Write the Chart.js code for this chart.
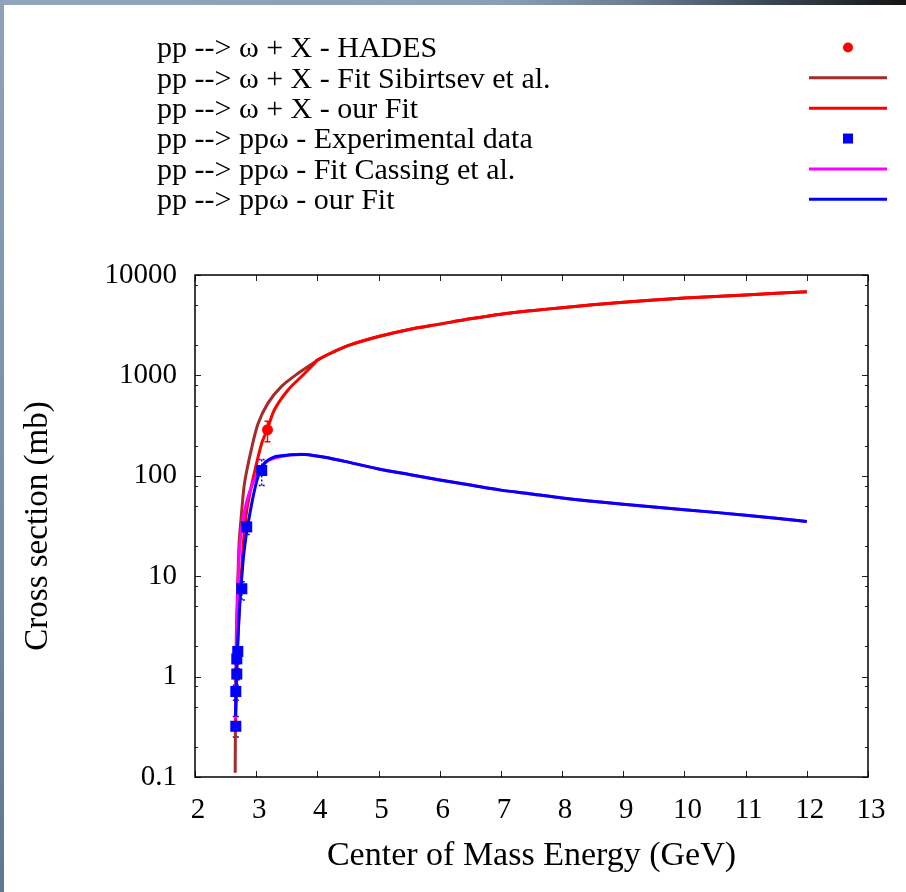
<!DOCTYPE html>
<html>
<head>
<meta charset="utf-8">
<title>pp omega cross sections</title>
<script src="https://cdn.jsdelivr.net/npm/chart.js@4.4.1/dist/chart.umd.min.js"></script>
<style>
  html, body { margin: 0; padding: 0; background: #fff; }
  #wrap { position: relative; width: 906px; height: 892px; overflow: hidden; background: #fff; }
  #topbar { position: absolute; left: 0; top: 0; width: 906px; height: 5px;
    background: linear-gradient(to right, #93a5bc 0%, #8c9fb6 55%, #6c7d90 70%, #3a4653 85%, #141414 100%); }
  #leftbar { position: absolute; left: 0; top: 0; width: 4px; height: 892px;
    background: linear-gradient(to bottom, #8fa2ba 0%, #7a91ab 50%, #5f7892 100%); }
  canvas { position: absolute; left: 0; top: 0; }
</style>
</head>
<body>
<div id="wrap">
  <canvas id="myChart" width="906" height="892"></canvas>
  <div id="topbar"></div>
  <div id="leftbar"></div>
</div>
<script>
// axis ticks
const xTickValues = [2, 3, 4, 5, 6, 7, 8, 9, 10, 11, 12, 13];
const yTickValues = [0.1, 1, 10, 100, 1000, 10000];
const yTickLabels = ["0.1", "1", "10", "100", "1000", "10000"];
const yMinorFactors = [2, 5, 8];

// pp --> omega + X, HADES point
const hadesE = [3.185];
const hadesSigma = [287];
const hadesLow = [218];
const hadesHigh = [350];

// pp --> pp omega, experimental data
const expE = [2.667, 2.667, 2.683, 2.683, 2.699, 2.765, 2.845, 3.09];
const expSigma = [0.32, 0.71, 1.06, 1.5, 1.78, 7.5, 31, 113];
const expLow = [0.25, 0.58, 0.93, 1.34, 1.6, 5.8, 26, 80];
const expHigh = [0.40, 0.82, 1.2, 1.68, 1.98, 8.8, 37, 145];

// omega + X fits share the same high energy part
const tailE = [4.0, 4.25, 4.5, 5, 5.5, 6, 6.5, 7, 7.5, 8, 9, 10, 11, 12];
const tailSigma = [1420, 1700, 1980, 2440, 2870, 3240, 3660, 4070, 4410, 4730, 5360, 5900, 6330, 6820];

const sibirtsevE = [2.657, 2.662, 2.67, 2.68, 2.70, 2.72, 2.76, 2.81, 2.92, 3.03, 3.19, 3.41, 3.685, 3.96];
const sibirtsevSigma = [0.11, 0.5, 1.5, 3.5, 9, 21, 42, 85, 182, 330, 527, 774, 1050, 1360];

const ourXE = [2.662, 2.68, 2.70, 2.73, 2.77, 2.81, 2.85, 2.90, 2.95, 3.09, 3.18, 3.30, 3.52, 3.74, 3.96];
const ourXSigma = [0.3, 0.9, 2.2, 5.5, 14, 30, 47, 68, 95, 211, 288, 457, 716, 975, 1330];

// pp omega fits share the same high energy part
const ppTailE = [3.58, 3.8, 4.12, 4.43, 5, 5.5, 6, 6.5, 7, 7.5, 8, 9, 10, 11, 12];
const ppTailSigma = [162, 163, 153, 140, 117, 103, 91, 81, 72, 66, 60, 52, 46, 40.5, 35];

const cassingE = [2.66, 2.672, 2.683, 2.70, 2.72, 2.75, 2.80, 2.86, 2.93, 3.0, 3.1, 3.2, 3.3, 3.45];
const cassingSigma = [0.38, 1.0, 2.3, 7.3, 15, 26, 42, 60, 80, 100, 125, 142, 150, 157];

const ourPpE = [2.662, 2.68, 2.70, 2.73, 2.76, 2.79, 2.83, 2.87, 2.95, 3.03, 3.14, 3.28, 3.4];
const ourPpSigma = [0.4, 1.1, 2.3, 5, 9, 15, 24, 34, 62, 98, 135, 153, 158];

const FONT = "'Liberation Serif', 'Times New Roman', serif";

const pts = (xs, ys) => xs.map((x, i) => ({ x: x, y: ys[i] }));

const ticksInside = {
  id: "ticksInside",
  beforeDatasetsDraw(chart) {
    const ctx = chart.ctx;
    const x = chart.scales.x;
    const y = chart.scales.y;
    ctx.save();
    // error bars
    const bars = [
      { e: hadesE, lo: hadesLow, hi: hadesHigh, color: "#ff0000", dash: [] },
      { e: expE, lo: expLow, hi: expHigh, color: "#0000ff", dash: [2, 2] }
    ];
    bars.forEach((b) => {
      ctx.strokeStyle = b.color;
      ctx.lineWidth = 1.5;
      ctx.setLineDash(b.dash);
      b.e.forEach((e, i) => {
        const px = x.getPixelForValue(e);
        const y1 = y.getPixelForValue(b.lo[i]);
        const y2 = y.getPixelForValue(b.hi[i]);
        ctx.beginPath();
        ctx.moveTo(px, y1);
        ctx.lineTo(px, y2);
        ctx.moveTo(px - 3, y1);
        ctx.lineTo(px + 3, y1);
        ctx.moveTo(px - 3, y2);
        ctx.lineTo(px + 3, y2);
        ctx.stroke();
      });
    });
    ctx.restore();
  },
  afterDraw(chart) {
    const ctx = chart.ctx;
    const a = chart.chartArea;
    const x = chart.scales.x;
    const y = chart.scales.y;
    ctx.save();
    ctx.strokeStyle = "#222";
    ctx.lineWidth = 1;
    ctx.beginPath();
    xTickValues.forEach((v) => {
      const px = Math.round(x.getPixelForValue(v)) + 0.5;
      ctx.moveTo(px, a.bottom);
      ctx.lineTo(px, a.bottom - 6);
      ctx.moveTo(px, a.top);
      ctx.lineTo(px, a.top + 6);
    });
    yTickValues.forEach((v) => {
      const py = Math.round(y.getPixelForValue(v)) + 0.5;
      ctx.moveTo(a.left, py);
      ctx.lineTo(a.left + 6, py);
      ctx.moveTo(a.right, py);
      ctx.lineTo(a.right - 6, py);
      if (v < 10000) {
        yMinorFactors.forEach((f) => {
          const pm = Math.round(y.getPixelForValue(v * f)) + 0.5;
          ctx.moveTo(a.left, pm);
          ctx.lineTo(a.left + 3, pm);
          ctx.moveTo(a.right, pm);
          ctx.lineTo(a.right - 3, pm);
        });
      }
    });
    ctx.stroke();
    ctx.strokeStyle = "#000";
    ctx.lineWidth = 1.5;
    ctx.strokeRect(a.left, a.top, a.right - a.left, a.bottom - a.top);

    // key
    ctx.font = "30px " + FONT;
    ctx.textAlign = "left";
    ctx.textBaseline = "middle";
    chart.data.datasets.forEach((ds, i) => {
      const ly = 47.5 + i * 30.35;
      ctx.fillStyle = "#000";
      ctx.fillText(ds.label, 157, ly + 2);
      if (ds.showLine) {
        ctx.strokeStyle = ds.borderColor;
        ctx.lineWidth = 3;
        ctx.beginPath();
        ctx.moveTo(809, ly);
        ctx.lineTo(887, ly);
        ctx.stroke();
      } else if (ds.pointStyle === "circle") {
        ctx.fillStyle = ds.backgroundColor;
        ctx.beginPath();
        ctx.arc(848, ly, 5, 0, Math.PI * 2);
        ctx.fill();
      } else {
        ctx.fillStyle = ds.backgroundColor;
        ctx.fillRect(843, ly - 5, 10, 10);
      }
    });
    ctx.restore();
  }
};

new Chart("myChart", {
  type: "scatter",
  data: {
    datasets: [
      {
        label: "pp --> \u03c9 + X - HADES",
        data: pts(hadesE, hadesSigma),
        pointStyle: "circle",
        pointRadius: 5.5,
        backgroundColor: "#ff0000",
        borderColor: "#ff0000",
        borderWidth: 0,
        order: 0
      },
      {
        label: "pp --> \u03c9 + X - Fit Sibirtsev et al.",
        data: pts(sibirtsevE.concat(tailE), sibirtsevSigma.concat(tailSigma)),
        showLine: true,
        pointRadius: 0,
        borderColor: "rgb(165,42,42)",
        borderWidth: 3,
        tension: 0.3,
        order: 5
      },
      {
        label: "pp --> \u03c9 + X - our Fit",
        data: pts(ourXE.concat(tailE), ourXSigma.concat(tailSigma)),
        showLine: true,
        pointRadius: 0,
        borderColor: "#ff0000",
        borderWidth: 3,
        tension: 0.3,
        order: 4
      },
      {
        label: "pp --> pp\u03c9 - Experimental data",
        data: pts(expE, expSigma),
        pointStyle: "rect",
        pointRadius: 7.8,
        backgroundColor: "#0000ff",
        borderColor: "#0000ff",
        borderWidth: 0,
        order: 1
      },
      {
        label: "pp --> pp\u03c9 - Fit Cassing et al.",
        data: pts(cassingE.concat(ppTailE), cassingSigma.concat(ppTailSigma)),
        showLine: true,
        pointRadius: 0,
        borderColor: "#ff00ff",
        borderWidth: 3,
        tension: 0.3,
        order: 3
      },
      {
        label: "pp --> pp\u03c9 - our Fit",
        data: pts(ourPpE.concat(ppTailE), ourPpSigma.concat(ppTailSigma)),
        showLine: true,
        pointRadius: 0,
        borderColor: "#0000ff",
        borderWidth: 3,
        tension: 0.3,
        order: 2
      }
    ]
  },
  options: {
    responsive: false,
    animation: false,
    devicePixelRatio: 1,
    layout: { padding: { top: 275, right: 38, left: 0, bottom: 0 } },
    plugins: {
      legend: { display: false },
      tooltip: { enabled: false }
    },
    scales: {
      x: {
        type: "linear",
        min: 2,
        max: 13,
        afterFit: (scale) => { scale.height = 115; },
        afterBuildTicks: (axis) => { axis.ticks = xTickValues.map((v) => ({ value: v })); },
        ticks: {
          autoSkip: false,
          maxRotation: 0,
          padding: 8,
          labelOffset: 3,
          color: "#000",
          font: { family: FONT, size: 29 },
          callback: (v) => String(v)
        },
        grid: { display: false },
        border: { display: false },
        title: {
          display: true,
          text: "Center of Mass Energy (GeV)",
          color: "#000",
          font: { family: FONT, size: 34 },
          padding: { top: 0, bottom: 16 }
        }
      },
      y: {
        type: "logarithmic",
        min: 0.1,
        max: 10000,
        afterFit: (scale) => { scale.width = 195; },
        afterBuildTicks: (axis) => { axis.ticks = yTickValues.map((v) => ({ value: v })); },
        ticks: {
          autoSkip: false,
          padding: 10,
          color: "#000",
          font: { family: FONT, size: 29 },
          callback: (v) => yTickLabels[yTickValues.indexOf(v)] || ""
        },
        grid: { display: false },
        border: { display: false },
        title: {
          display: true,
          text: "Cross section (mb)",
          color: "#000",
          font: { family: FONT, size: 33 },
          padding: { top: 19, bottom: 0 }
        }
      }
    }
  },
  plugins: [ticksInside]
});
</script>
</body>
</html>
